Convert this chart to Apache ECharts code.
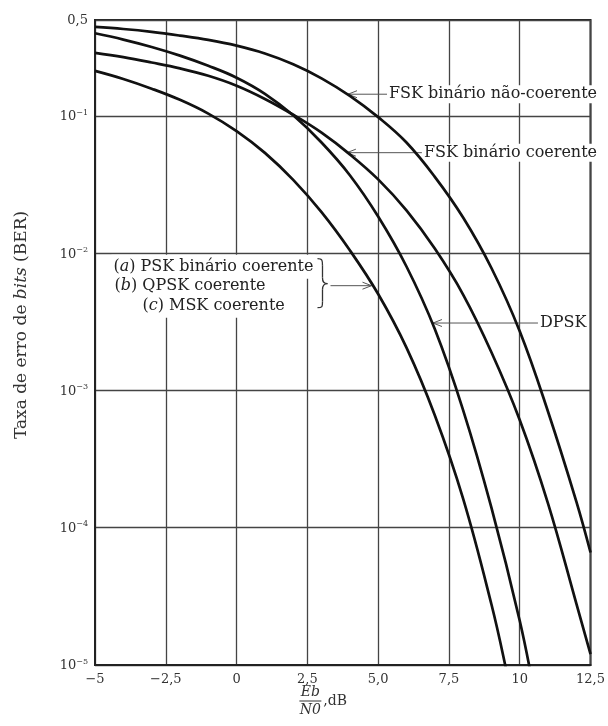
<!DOCTYPE html>
<html><head><meta charset="utf-8">
<script src="https://cdn.jsdelivr.net/npm/echarts@6/dist/echarts.min.js"></script>
<style>html,body{margin:0;padding:0;background:#fff}#c{width:608px;height:726px}</style>
</head><body><div id="c"></div>
<script>
// ---- data (Eb/N0 in dB, bit error rate) ----
const fskNcX  = [-5,-4,-3,-2,-1,0,1,2,3,4,5,6,7,8,9,10,11,12,12.5];
const fskNcY  = [0.445,0.43,0.41,0.385,0.358,0.325,0.285,0.238,0.188,0.140,0.098,0.064,0.036,0.0182,0.0078,0.0027,0.00070,0.000155,0.000066];
const fskCX   = [-5,-4,-3,-2,-1,0,1,2,3,4,5,6,7,8,9,10,11,12,12.5];
const fskCY   = [0.288,0.268,0.245,0.222,0.196,0.166,0.133,0.102,0.0755,0.0525,0.0345,0.0205,0.0108,0.0050,0.0019,0.00061,0.00015,0.000028,0.000012];
const dpskX   = [-5,-4,-3,-2,-1,0,1,2,3,4,5,6,7,8,9,10,10.5];
const dpskY   = [0.40,0.36,0.318,0.275,0.232,0.19,0.145,0.101,0.064,0.037,0.0185,0.0080,0.0028,0.00072,0.00014,0.000021,0.0000065];
const pskX    = [-5,-4,-3,-2,-1,0,1,2,3,4,5,6,7,8,9,9.5,10];
const pskY    = [0.213,0.186,0.158,0.131,0.104,0.0775,0.0538,0.0342,0.0199,0.0105,0.00504,0.00205,0.00066,0.000163,0.0000277,0.0000097,0.000003];

const xTickLabels = ['−5','−2,5','0','2,5','5,0','7,5','10','12,5'];
const yTickBase   = ['10','10','10','10','10','0,5'];
const yTickExp    = ['−5','−4','−3','−2','−1',''];

// annotation anchors (data coordinates on the curves)
const tipFskNc = [3.9, 0.144];
const tipFskC  = [3.86, 0.054];
const tipDpsk  = [6.9, 0.0031];
const tipPsk   = [4.8, 0.0058];

const FONT = 'DejaVu Serif';
const chart = echarts.init(document.getElementById('c'));

function pairs(xs, ys){ return xs.map((x,i)=>[x, ys[i]]); }
const curves = [
  ['FSK binário não-coerente', pairs(fskNcX, fskNcY)],
  ['FSK binário coerente', pairs(fskCX, fskCY)],
  ['DPSK', pairs(dpskX, dpskY)],
  ['PSK binário coerente', pairs(pskX, pskY)]
];

chart.setOption({
  animation:false,
  backgroundColor:'#fff',
  grid:{left:95,right:13,top:20,bottom:61,show:true,borderColor:'#222',borderWidth:2,backgroundColor:'transparent'},
  xAxis:{type:'value',min:-5,max:12.5,interval:2.5,
    axisLine:{show:true,onZero:false,lineStyle:{color:'#222',width:2}},
    axisTick:{show:false},
    splitLine:{show:true,lineStyle:{color:'#444',width:1.3}},
    axisLabel:{margin:8,fontFamily:FONT,fontSize:13,color:'#333',formatter:(v,i)=>xTickLabels[i]}
  },
  yAxis:{type:'log',logBase:10,min:0.00001,max:0.5,
    axisLine:{show:true,onZero:false,lineStyle:{color:'#222',width:2}},
    axisTick:{show:false},
    splitLine:{show:true,lineStyle:{color:'#444',width:1.3}},
    minorSplitLine:{show:false},
    axisLabel:{margin:7,fontFamily:FONT,color:'#333',
      formatter:(v)=>{
        const e = Math.round(Math.log10(v));
        const idx = v > 0.3 ? 5 : e + 5;
        return yTickExp[idx] ? '{b|'+yTickBase[idx]+'}{s|'+yTickExp[idx]+'}' : '{b|'+yTickBase[idx]+'}';
      },
      rich:{
        b:{fontFamily:FONT,fontSize:13,color:'#333',lineHeight:15,verticalAlign:'bottom'},
        s:{fontFamily:FONT,fontSize:8,color:'#333',lineHeight:8,verticalAlign:'top'}
      }
    }
  },
  series: curves.map(c=>({type:'line',name:c[0],data:c[1],symbol:'none',showSymbol:false,smooth:0.4,clip:true,
    lineStyle:{color:'#111',width:2.7},z:5}))
});

function px(p){ return chart.convertToPixel({gridIndex:0}, p); }
const G = [];
const txtStyle = (text, size, pad) => ({text, fontFamily:FONT, fontSize:size, fill:'#222',
   align:'left', verticalAlign:'middle', backgroundColor:'#fff', padding:pad||[1,2],
   rich:{i:{fontFamily:FONT,fontSize:size,fontStyle:'italic',fill:'#222'}}});
function leftArrow(tip, gap, label){
  const [tx,ty] = px(tip);
  G.push({type:'line',z:4,shape:{x1:tx+1,y1:ty,x2:tx+gap,y2:ty},style:{stroke:'#555',lineWidth:1}});
  G.push({type:'polyline',z:4,shape:{points:[[tx+10,ty-3.5],[tx+1,ty],[tx+10,ty+3.5]]},style:{stroke:'#555',lineWidth:1,fill:null}});
  G.push({type:'text',z:3,x:tx+gap,y:ty,style:txtStyle(label,16)});
}
leftArrow(tipFskNc, 40, 'FSK binário não-coerente');
leftArrow(tipFskC, 76, 'FSK binário coerente');
leftArrow(tipDpsk, 106, 'DPSK');

// PSK / QPSK / MSK group
(function(){
  const [tx,ty] = px(tipPsk);
  G.push({type:'line',z:4,shape:{x1:tx-42,y1:ty,x2:tx-1,y2:ty},style:{stroke:'#555',lineWidth:1}});
  G.push({type:'polyline',z:4,shape:{points:[[tx-10,ty-3.5],[tx-1,ty],[tx-10,ty+3.5]]},style:{stroke:'#555',lineWidth:1,fill:null}});
  const bx = tx-55, by = ty-1;
  const bs = {stroke:'#333',lineWidth:1.3,fill:null};
  G.push({type:'bezierCurve',z:4,x:bx,y:by,shape:{x1:0,y1:-26,cpx1:5,cpy1:-26,cpx2:5,cpy2:-24,x2:5,y2:-19},style:bs});
  G.push({type:'line',z:4,x:bx,y:by,shape:{x1:5,y1:-19,x2:5,y2:-7},style:bs});
  G.push({type:'bezierCurve',z:4,x:bx,y:by,shape:{x1:5,y1:-7,cpx1:5,cpy1:-3,cpx2:6,cpy2:-1,x2:10,y2:-1},style:bs});
  G.push({type:'bezierCurve',z:4,x:bx,y:by,shape:{x1:10,y1:-1,cpx1:6,cpy1:-1,cpx2:5,cpy2:1,x2:5,y2:5},style:bs});
  G.push({type:'line',z:4,x:bx,y:by,shape:{x1:5,y1:5,x2:5,y2:17},style:bs});
  G.push({type:'bezierCurve',z:4,x:bx,y:by,shape:{x1:5,y1:17,cpx1:5,cpy1:22,cpx2:5,cpy2:23,x2:0,y2:23},style:bs});
  G.push({type:'text',z:3,x:tx-261,y:ty-19,style:txtStyle('({i|a}) PSK binário coerente',16,[4,2])});
  G.push({type:'text',z:3,x:tx-260,y:ty,style:txtStyle('({i|b}) QPSK coerente',16,[4,2])});
  G.push({type:'text',z:3,x:tx-232,y:ty+20,style:txtStyle('({i|c}) MSK coerente',16,[4,2])});
})();

// y axis title
G.push({type:'text',z:3,x:22,y:325,rotation:Math.PI/2,style:{text:'Taxa de erro de {i|bits} (BER)',fontFamily:FONT,fontSize:17,fill:'#333',align:'center',verticalAlign:'middle',
  rich:{i:{fontFamily:FONT,fontSize:17,fontStyle:'italic',fill:'#333'}}}});

// x axis title  Eb/N0 , dB
(function(){
  const [cx, cy] = px([2.5, 0.00001]);
  const fx = cx + 3;
  G.push({type:'text',z:3,x:fx,y:cy+27,style:{text:'Eb',fontFamily:FONT,fontSize:14,fontStyle:'italic',fill:'#333',align:'center',verticalAlign:'middle'}});
  G.push({type:'line',z:3,shape:{x1:fx-11,y1:cy+36,x2:fx+11,y2:cy+36},style:{stroke:'#333',lineWidth:1}});
  G.push({type:'text',z:3,x:fx,y:cy+45,style:{text:'N0',fontFamily:FONT,fontSize:14,fontStyle:'italic',fill:'#333',align:'center',verticalAlign:'middle'}});
  G.push({type:'text',z:3,x:fx+13,y:cy+36,style:{text:',dB',fontFamily:FONT,fontSize:14,fill:'#333',align:'left',verticalAlign:'middle'}});
})();

chart.setOption({graphic:G});
</script>
</body></html>
